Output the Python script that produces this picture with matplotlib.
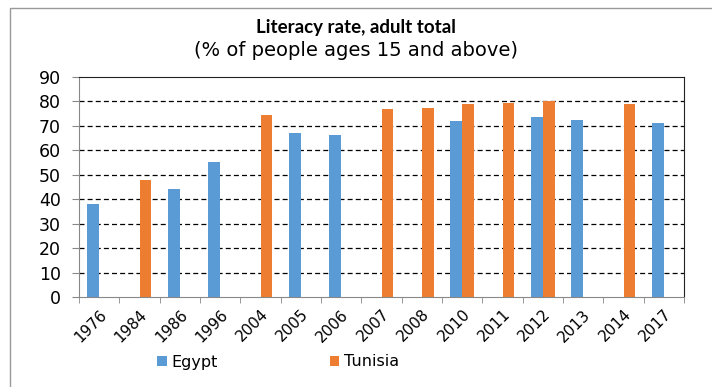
import numpy as np
import matplotlib
matplotlib.use('Agg')
import matplotlib.pyplot as plt
from matplotlib.patches import Rectangle

years = ['1976', '1984', '1986', '1996', '2004', '2005', '2006', '2007',
         '2008', '2010', '2011', '2012', '2013', '2014', '2017']
egypt = [38.2, np.nan, 44.1, 55.3, np.nan, 67.2, 66.1, np.nan,
         np.nan, 72.0, np.nan, 73.6, 72.4, np.nan, 71.0]
tunisia = [np.nan, 48.0, np.nan, np.nan, 74.3, np.nan, np.nan, 77.0,
           77.3, 79.0, 79.4, 80.1, np.nan, 79.0, np.nan]

plt.rcParams['font.family'] = ['DejaVu Sans']

fig = plt.figure(figsize=(7.12, 3.87), dpi=100)
ax = fig.add_axes([79 / 712, 1 - 297 / 387, 605 / 712, 220 / 387])

# outer chart frame
fig.patches.append(Rectangle((10 / 712, -0.05), 1.2, 1 - 8 / 387 + 0.05,
                             transform=fig.transFigure, fill=False,
                             edgecolor='#999999', linewidth=1))

x = np.arange(len(years))
w = 0.29
ax.bar(x - w / 2, egypt, width=w, color='#5B9BD5', label='Egypt')
ax.bar(x + w / 2, tunisia, width=w, color='#ED7D31', label='Tunisia')

ax.set_xlim(-0.5, len(years) - 0.5)
ax.set_ylim(0, 90)
ax.set_yticks(range(0, 91, 10))
ax.set_xticks(x)
ax.set_xticklabels(years, rotation=45, ha='right', rotation_mode='anchor', fontsize=11)
ax.tick_params(axis='x', length=0, pad=7)
ax.set_xticks(np.arange(-0.5, len(years), 1), minor=True)
ax.tick_params(axis='x', which='minor', length=4, color='#888888', direction='out')
ax.tick_params(axis='y', labelsize=12.5, length=5, color='#888888', pad=8)

for y in range(10, 90, 10):
    ax.axhline(y, color='black', linestyle=(0, (4, 2.5)), linewidth=0.9, zorder=0)

for s in ['top', 'right']:
    ax.spines[s].set_color('#222222')
for s in ['left', 'bottom']:
    ax.spines[s].set_color('#888888')

fig.text(0.5, 1 - 27 / 387, 'Literacy rate, adult total', ha='center', va='center',
         fontsize=13.5, fontweight='bold', family='Lato')
fig.text(0.5, 1 - 50 / 387, '(% of people ages 15 and above)', ha='center', va='center',
         fontsize=14)

fig.legend(loc='center', bbox_to_anchor=(278 / 712, 1 - 362 / 387), ncol=2,
           frameon=False, fontsize=11.5, handlelength=0.6, handleheight=0.6,
           handletextpad=0.3, columnspacing=7)

fig.savefig('out.png', dpi=100)
